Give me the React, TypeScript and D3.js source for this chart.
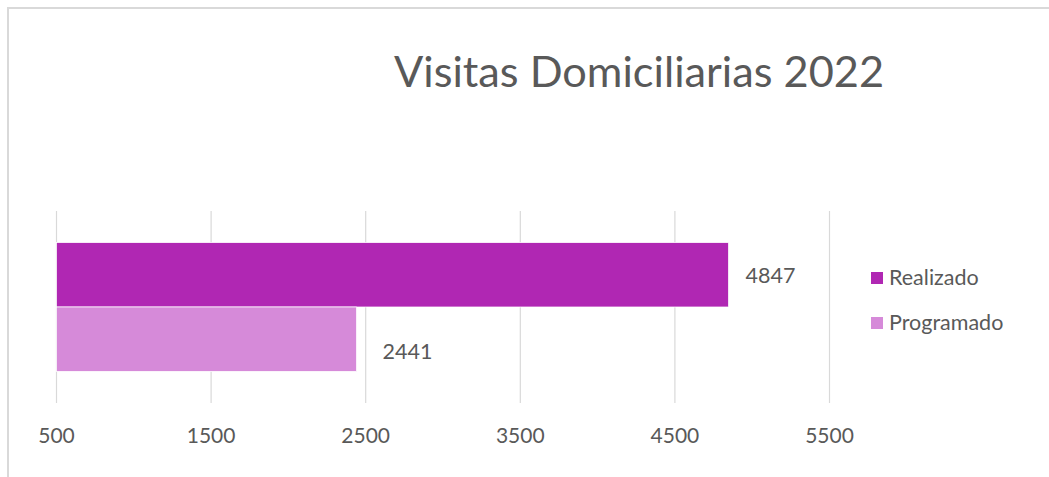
import React from 'react';
import * as d3 from 'd3';

const title = 'Visitas Domiciliarias 2022';
const categories = ['2022'];
const seriesNames = ['Realizado', 'Programado'];
const seriesValues = [4847, 2441];
const seriesColors = ['#B027B3', '#D68AD9'];
const tickValues = [500, 1500, 2500, 3500, 4500, 5500];

const W = 1049;
const H = 477;
const font = 'Lato, "Open Sans", sans-serif';
const textColor = '#595959';
// label nudges (dx, dy) copied from the original layout
const labelNudge = [[17, 8], [26, 20]];

export default function App() {
  const plot = { left: 56.5, right: 829.5, top: 211, bottom: 403 };

  const x = d3.scaleLinear().domain([500, 5500]).range([plot.left, plot.right]);
  const yCat = d3.scaleBand().domain(categories).range([plot.top, plot.bottom])
    .paddingInner(0).paddingOuter(0.245);
  const ySeries = d3.scaleBand().domain(seriesNames).range([0, yCat.bandwidth()]);

  const legendY = d3.scalePoint().domain(seriesNames).range([277, 322]);

  return (
    <svg width={W} height={H} style={{ position: 'absolute', left: 0, top: 0, overflow: 'hidden' }}>
      <rect x={0} y={0} width={W} height={H} fill="#fff" />
      <rect x={8} y={8} width={W + 50} height={H + 50} fill="none" stroke="#d9d9d9" strokeWidth={2} />

      <text x={639} y={87} textAnchor="middle" fontFamily={font} fontSize={43.3} fill={textColor}>
        {title}
      </text>

      {tickValues.map(t => (
        <g key={t}>
          <line x1={x(t)} x2={x(t)} y1={plot.top} y2={plot.bottom} stroke="#d9d9d9" strokeWidth={1.2} />
          <text x={x(t)} y={443} textAnchor="middle" fontFamily={font} fontSize={21} fill={textColor}>{t}</text>
        </g>
      ))}

      {categories.map(c => (
        <g key={c} transform={`translate(0,${yCat(c)})`}>
          {seriesNames.map((s, i) => (
            <g key={s}>
              <rect x={x(500)} y={ySeries(s)} width={x(seriesValues[i]) - x(500)} height={ySeries.bandwidth()}
                fill={seriesColors[i]} stroke="#fff" strokeWidth={0.75} />
              <text x={x(seriesValues[i]) + labelNudge[i][0]}
                y={(ySeries(s) || 0) + ySeries.bandwidth() / 2 + labelNudge[i][1]}
                fontFamily={font} fontSize={21.5} fill={textColor}>{seriesValues[i]}</text>
            </g>
          ))}
        </g>
      ))}

      {seriesNames.map((s, i) => (
        <g key={s}>
          <rect x={871} y={(legendY(s) || 0) - 5} width={12} height={12} fill={seriesColors[i]} />
          <text x={889} y={(legendY(s) || 0) + 7.5} fontFamily={font} fontSize={21.5} fill={textColor}>{s}</text>
        </g>
      ))}
    </svg>
  );
}
